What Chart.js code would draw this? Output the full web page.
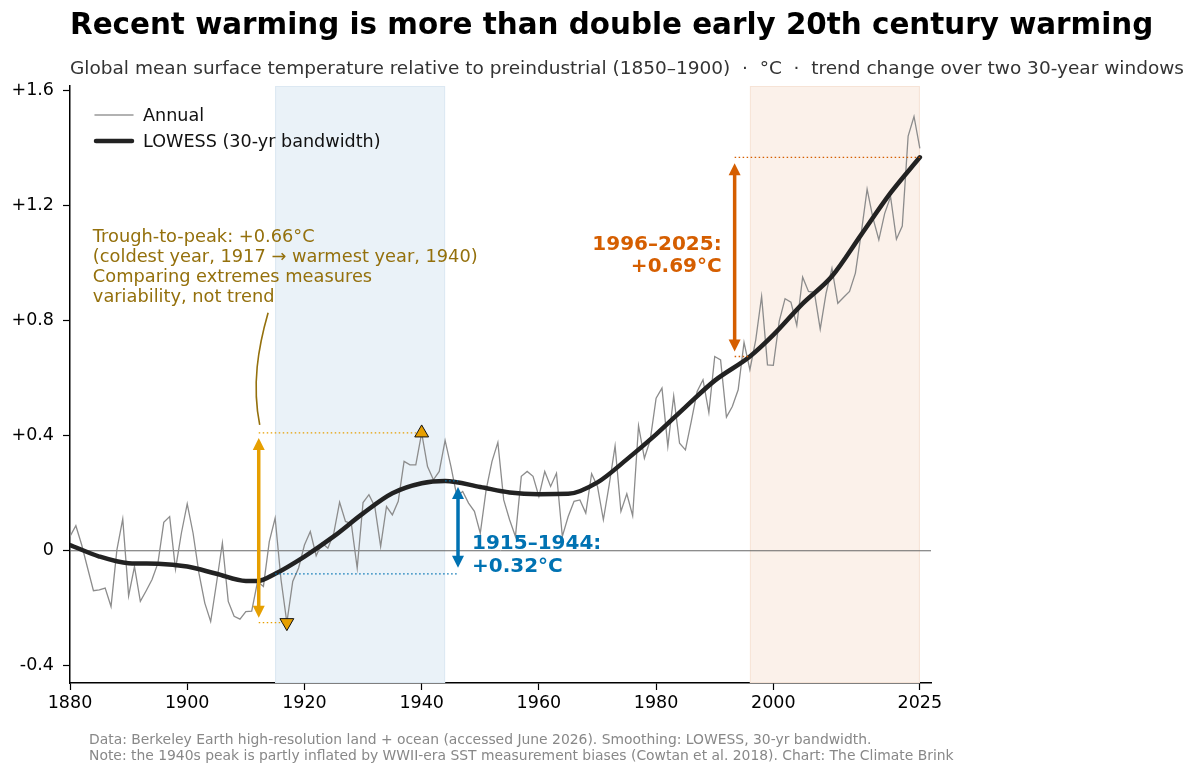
<!DOCTYPE html>
<html>
<head>
<meta charset="utf-8">
<script src="https://cdn.jsdelivr.net/npm/chart.js@4.4.1/dist/chart.umd.min.js"></script>
<style>
  body { margin: 0; background: #fff; }
  #wrap { position: relative; width: 1200px; height: 775px; font-family: 'DejaVu Sans', sans-serif; }
  #grafico { position: absolute; left: 0; top: 0; }
  #titulo { position: absolute; left: 70px; top: 10px; font-size: 29.4px; line-height: 29.4px; font-weight: bold; color: #000; white-space: nowrap; }
  #subtitulo { position: absolute; left: 70px; top: 59px; font-size: 18.5px; line-height: 18.5px; color: #333; white-space: pre; }
  #pie { position: absolute; left: 89px; top: 731px; font-size: 13.9px; line-height: 16px; color: #888; white-space: nowrap; }
</style>
</head>
<body>
<div id="wrap">
  <canvas id="grafico" width="1200" height="775"></canvas>
  <div id="titulo">Recent warming is more than double early 20th century warming</div>
  <div id="subtitulo">Global mean surface temperature relative to preindustrial (1850–1900)  ·  °C  ·  trend change over two 30-year windows</div>
  <div id="pie">Data: Berkeley Earth high-resolution land + ocean (accessed June 2026). Smoothing: LOWESS, 30-yr bandwidth.<br>Note: the 1940s peak is partly inflated by WWII-era SST measurement biases (Cowtan et al. 2018). Chart: The Climate Brink</div>
</div>
<script>
// Anomalía anual (°C sobre 1850–1900)
const anios = [];
for (let a = 1880; a <= 2025; a++) anios.push(a);
const anual = [
  0.05, 0.087, 0.02, -0.06, -0.139, -0.136, -0.13, -0.194, 0.003, 0.111,
  -0.157, -0.055, -0.176, -0.139, -0.1, -0.043, 0.099, 0.119, -0.064, 0.061,
  0.163, 0.061, -0.078, -0.182, -0.246, -0.112, 0.027, -0.176, -0.228, -0.238,
  -0.212, -0.21, -0.107, -0.124, 0.032, 0.114, -0.1, -0.25, -0.107, -0.06,
  0.02, 0.067, -0.017, 0.027, 0.009, 0.061, 0.169, 0.102, 0.094, -0.06,
  0.168, 0.195, 0.154, 0.015, 0.154, 0.125, 0.172, 0.311, 0.299, 0.299,
  0.41, 0.293, 0.247, 0.276, 0.384, 0.293, 0.19, 0.206, 0.166, 0.137,
  0.061, 0.212, 0.311, 0.377, 0.177, 0.108, 0.05, 0.259, 0.276, 0.259,
  0.189, 0.276, 0.224, 0.27, 0.05, 0.119, 0.172, 0.177, 0.131, 0.268,
  0.224, 0.108, 0.23, 0.365, 0.137, 0.198, 0.122, 0.435, 0.322, 0.386,
  0.531, 0.566, 0.363, 0.539, 0.374, 0.351, 0.45, 0.554, 0.595, 0.481,
  0.676, 0.664, 0.465, 0.502, 0.56, 0.725, 0.63, 0.734, 0.885, 0.647,
  0.645, 0.798, 0.877, 0.865, 0.784, 0.952, 0.902, 0.899, 0.771, 0.896,
  0.983, 0.861, 0.882, 0.902, 0.966, 1.105, 1.258, 1.157, 1.082, 1.174,
  1.232, 1.084, 1.13, 1.443, 1.511, 1.40
];

// Curva LOWESS (30 años)
const aniosLowess = [1880, 1885, 1890, 1895, 1900, 1905, 1910, 1912, 1915, 1920, 1925, 1930, 1935, 1940, 1944,
  1950, 1955, 1960, 1965, 1970, 1975, 1980, 1985, 1990, 1996, 2000, 2005, 2010, 2015, 2020, 2025];
const lowess = [0.02, -0.02, -0.043, -0.045, -0.055, -0.08, -0.105, -0.105, -0.08, -0.02, 0.05, 0.13, 0.2, 0.235, 0.243,
  0.222, 0.203, 0.197, 0.198, 0.238, 0.318, 0.405, 0.5, 0.592, 0.676, 0.751, 0.86, 0.955, 1.1, 1.245, 1.369];

// Año más frío / más cálido
const extremos = [{ x: 1917, y: -0.25 }, { x: 1940, y: 0.41 }];

// Ventanas de 30 años y su cambio de tendencia
const ventanas = [[1915, 1944], [1996, 2025]];
const cambios = ['+0.32°C', '+0.69°C'];

const ticksX = [1880, 1900, 1920, 1940, 1960, 1980, 2000, 2025];
const ticksY = [-0.4, 0, 0.4, 0.8, 1.2, 1.6];
const etiquetasY = ['-0.4', '0', '+0.4', '+0.8', '+1.2', '+1.6'];

const AZUL = '#0072B2', NARANJA = '#E69F00', BERMELLON = '#D55E00', OCRE = '#94700c';

function flecha(ctx, px, y1, y2, color) {
  // flecha doble vertical, puntas en y1 y y2
  const largo = 12, ancho = 6;
  const dir = y2 > y1 ? 1 : -1;
  ctx.strokeStyle = color;
  ctx.fillStyle = color;
  ctx.lineWidth = 3.5;
  ctx.setLineDash([]);
  ctx.beginPath();
  ctx.moveTo(px, y1 + dir * (largo - 2));
  ctx.lineTo(px, y2 - dir * (largo - 2));
  ctx.stroke();
  [[y1, dir], [y2, -dir]].forEach(([yy, d]) => {
    ctx.beginPath();
    ctx.moveTo(px, yy);
    ctx.lineTo(px - ancho, yy + d * largo);
    ctx.lineTo(px + ancho, yy + d * largo);
    ctx.closePath();
    ctx.fill();
  });
}

function punteada(ctx, x1, x2, yy, color) {
  ctx.strokeStyle = color;
  ctx.lineWidth = 1.3;
  ctx.setLineDash([1.5, 2.5]);
  ctx.beginPath();
  ctx.moveTo(x1, yy);
  ctx.lineTo(x2, yy);
  ctx.stroke();
  ctx.setLineDash([]);
}

const anotaciones = {
  id: 'anotaciones',
  beforeDatasetsDraw(chart) {
    const { ctx, chartArea: a, scales: { x, y } } = chart;
    ctx.save();
    const fondos = [['#eaf2f8', '#dce8f2'], ['#fbf1ea', '#f6e3d6']];
    ventanas.forEach(([ini, fin], i) => {
      const x1 = x.getPixelForValue(ini), x2 = x.getPixelForValue(fin);
      ctx.fillStyle = fondos[i][0];
      ctx.fillRect(x1, a.top, x2 - x1, a.bottom - a.top);
      ctx.strokeStyle = fondos[i][1];
      ctx.lineWidth = 1;
      ctx.strokeRect(x1 + 0.5, a.top + 0.5, x2 - x1 - 1, a.bottom - a.top - 1);
    });
    // línea del cero
    ctx.strokeStyle = '#666';
    ctx.lineWidth = 1;
    ctx.beginPath();
    ctx.moveTo(a.left, y.getPixelForValue(0));
    ctx.lineTo(a.right, y.getPixelForValue(0));
    ctx.stroke();
    ctx.restore();
  },
  afterDatasetsDraw(chart) {
    const { ctx, chartArea: a, scales: { x, y } } = chart;
    ctx.save();

    // Pico a valle (año frío -> año cálido)
    const xa = x.getPixelForValue(1912.2);
    const yFrio = y.getPixelForValue(extremos[0].y), yCalido = y.getPixelForValue(extremos[1].y);
    punteada(ctx, xa, x.getPixelForValue(extremos[1].x), yCalido, NARANJA);
    punteada(ctx, xa, x.getPixelForValue(extremos[0].x), yFrio, NARANJA);
    flecha(ctx, xa, yCalido + 5, yFrio - 5, NARANJA);

    // 1915–1944
    const xb = x.getPixelForValue(1946.2);
    const lo1 = lowess[aniosLowess.indexOf(ventanas[0][0])];
    const hi1 = lowess[aniosLowess.indexOf(ventanas[0][1])];
    const yb1 = y.getPixelForValue(lo1), yb2 = y.getPixelForValue(hi1);
    punteada(ctx, x.getPixelForValue(ventanas[0][0]), xb, yb1, AZUL);
    punteada(ctx, x.getPixelForValue(ventanas[0][1]), xb, yb2, AZUL);
    flecha(ctx, xb, yb2 + 6, yb1 - 6, AZUL);

    // 1996–2025
    const xc = x.getPixelForValue(1993.4);
    const lo2 = lowess[aniosLowess.indexOf(ventanas[1][0])];
    const hi2 = lowess[aniosLowess.indexOf(ventanas[1][1])];
    const yc1 = y.getPixelForValue(lo2), yc2 = y.getPixelForValue(hi2);
    punteada(ctx, xc, x.getPixelForValue(ventanas[1][1]), yc2, BERMELLON);
    punteada(ctx, xc, x.getPixelForValue(ventanas[1][0]), yc1, BERMELLON);
    flecha(ctx, xc, yc2 + 6, yc1 - 5, BERMELLON);

    // textos
    ctx.textBaseline = 'middle';
    ctx.font = 'bold 20px "DejaVu Sans"';
    ctx.fillStyle = AZUL;
    ctx.textAlign = 'left';
    ctx.fillText(ventanas[0].join('–') + ':', xb + 14, y.getPixelForValue(0.025));
    ctx.fillText(cambios[0], xb + 14, y.getPixelForValue(0.025) + 23);
    ctx.fillStyle = BERMELLON;
    ctx.textAlign = 'right';
    ctx.fillText(ventanas[1].join('–') + ':', xc - 13, y.getPixelForValue(1.064));
    ctx.fillText(cambios[1], xc - 13, y.getPixelForValue(1.064) + 22);

    ctx.font = '17.8px "DejaVu Sans"';
    ctx.fillStyle = OCRE;
    ctx.textAlign = 'left';
    const lineas = ['Trough-to-peak: +0.66°C', '(coldest year, 1917 → warmest year, 1940)',
      'Comparing extremes measures', 'variability, not trend'];
    const tx = x.getPixelForValue(1883.9), ty = y.getPixelForValue(1.089);
    lineas.forEach((l, i) => ctx.fillText(l, tx, ty + i * 20));

    // conector curvo
    const cx0 = x.getPixelForValue(1913.8), cy0 = ty + 75;
    const cx1 = xa + 1, cy1 = yCalido - 8;
    ctx.strokeStyle = OCRE;
    ctx.lineWidth = 1.6;
    ctx.beginPath();
    ctx.moveTo(cx0, cy0);
    ctx.bezierCurveTo(cx0 - 10, cy0 + 35, cx1 - 8, cy1 - 40, cx1, cy1);
    ctx.stroke();

    // leyenda
    const lx = a.left + 25, ly = a.top + 29;
    ctx.lineCap = 'round';
    ctx.strokeStyle = '#999';
    ctx.lineWidth = 1.5;
    ctx.beginPath(); ctx.moveTo(lx, ly); ctx.lineTo(lx + 38, ly); ctx.stroke();
    ctx.strokeStyle = '#222';
    ctx.lineWidth = 4.5;
    ctx.beginPath(); ctx.moveTo(lx + 1, ly + 26); ctx.lineTo(lx + 37, ly + 26); ctx.stroke();
    ctx.fillStyle = '#111';
    ctx.font = '17.6px "DejaVu Sans"';
    ctx.fillText('Annual', lx + 48, ly + 1);
    ctx.fillText('LOWESS (30-yr bandwidth)', lx + 48, ly + 27);
    ctx.restore();
  }
};

Chart.defaults.font.family = '"DejaVu Sans", sans-serif';

new Chart(document.getElementById('grafico'), {
  type: 'line',
  data: {
    datasets: [
      {
        label: 'Marcadores',
        type: 'scatter',
        data: extremos,
        pointStyle: 'triangle',
        pointRadius: 8,
        pointRotation: [180, 0],
        backgroundColor: NARANJA,
        borderColor: '#111',
        borderWidth: 1,
        order: 0
      },
      {
        label: 'LOWESS (30-yr bandwidth)',
        data: aniosLowess.map((a, i) => ({ x: a, y: lowess[i] })),
        borderColor: '#222',
        borderWidth: 4.5,
        pointRadius: 0,
        cubicInterpolationMode: 'monotone',
        borderCapStyle: 'round',
        order: 1
      },
      {
        label: 'Annual',
        data: anios.map((a, i) => ({ x: a, y: anual[i] })),
        borderColor: '#8c8c8c',
        borderWidth: 1.3,
        pointRadius: 0,
        tension: 0,
        order: 2
      }
    ]
  },
  options: {
    responsive: false,
    animation: false,
    devicePixelRatio: 1,
    layout: { padding: { top: 86, right: 269, bottom: 0, left: 0 } },
    plugins: { legend: { display: false }, tooltip: { enabled: false } },
    scales: {
      x: {
        type: 'linear',
        min: 1880,
        max: 2026.9,
        afterFit: s => { s.height = 92; },
        afterBuildTicks: s => { s.ticks = ticksX.map(v => ({ value: v })); },
        grid: { display: true, drawOnChartArea: false, drawTicks: true, tickLength: 7, tickColor: '#000', tickWidth: 1.2 },
        border: { display: true, color: '#000', width: 1.5 },
        ticks: { color: '#000', font: { size: 17.5 }, padding: 3, maxRotation: 0, autoSkip: false, callback: v => String(v) }
      },
      y: {
        min: -0.46,
        max: 1.617,
        afterFit: s => { s.width = 70; },
        afterBuildTicks: s => { s.ticks = ticksY.map(v => ({ value: v })); },
        grid: { display: true, drawOnChartArea: false, drawTicks: true, tickLength: 7, tickColor: '#000', tickWidth: 1.2 },
        border: { display: true, color: '#000', width: 1.5 },
        ticks: {
          color: '#000', font: { size: 17.5 }, padding: 9,
          callback: v => { const i = ticksY.findIndex(t => Math.abs(t - v) < 1e-6); return i >= 0 ? etiquetasY[i] : ''; }
        }
      }
    }
  },
  plugins: [anotaciones]
});
</script>
</body>
</html>
